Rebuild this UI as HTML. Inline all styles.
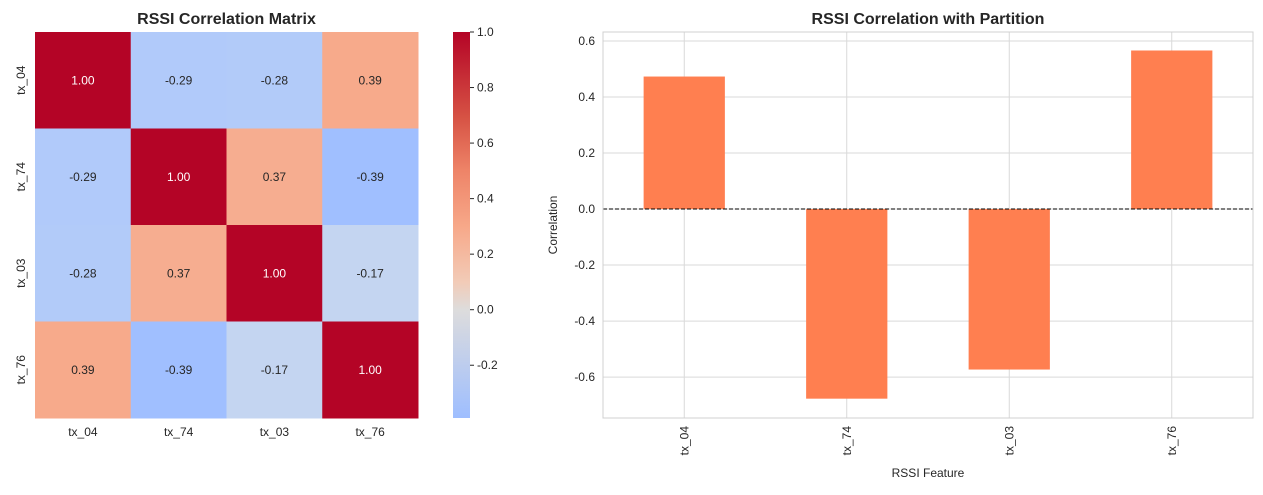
<!DOCTYPE html>
<html><head><meta charset="utf-8"><style>
html,body{margin:0;padding:0;background:#fff;}
svg text{font-family:"Liberation Sans",sans-serif;fill:#262626;}
</style></head><body>
<svg id="fig" width="1263" height="490" xmlns="http://www.w3.org/2000/svg">
<defs>
<linearGradient id="cw" x1="0" y1="1" x2="0" y2="0">
<stop offset="0" stop-color="#9ebeff"/>
<stop offset="0.2806" stop-color="#dddcdc"/>
<stop offset="0.352" stop-color="#f2cbb7"/>
<stop offset="0.496" stop-color="#f7a889"/>
<stop offset="0.64" stop-color="#ee8468"/>
<stop offset="0.78" stop-color="#d65244"/>
<stop offset="1" stop-color="#b40426"/>
</linearGradient>
</defs>
<g id="heat"></g>
<g id="cbar"></g>
<g id="bars"></g>
</svg>
<script>
const heatLabels = ["tx_04","tx_74","tx_03","tx_76"];
const heatValues = [
 [1.00,-0.29,-0.28,0.39],
 [-0.29,1.00,0.37,-0.39],
 [-0.28,0.37,1.00,-0.17],
 [0.39,-0.39,-0.17,1.00]];
const cbarTicks = [1.0,0.8,0.6,0.4,0.2,0.0,-0.2];
const barCategories = ["tx_04","tx_74","tx_03","tx_76"];
const barValues = [0.473,-0.677,-0.573,0.566];
const barTicks = [0.6,0.4,0.2,0.0,-0.2,-0.4,-0.6];

const NS="http://www.w3.org/2000/svg";
function mk(tag,attrs,parent,text){const e=document.createElementNS(NS,tag);for(const k in attrs)e.setAttribute(k,attrs[k]);if(text!==undefined)e.textContent=text;parent.appendChild(e);return e;}
function hex(h){return [1,3,5].map(i=>parseInt(h.substr(i,2),16));}
const cstops=[[0,"#3b4cc0"],[0.1,"#5977e3"],[0.2,"#7b9ff9"],[0.3,"#9ebeff"],[0.4,"#c0d4f5"],[0.5,"#dddcdc"],[0.6,"#f2cbb7"],[0.7,"#f7a889"],[0.8,"#ee8468"],[0.9,"#d65244"],[1,"#b40426"]];
function cmap(v){let p=Math.max(0,Math.min(1,0.5+v/2));for(let i=0;i<cstops.length-1;i++){if(p<=cstops[i+1][0]){const t=(p-cstops[i][0])/0.1;const a=hex(cstops[i][1]),b=hex(cstops[i+1][1]);return "rgb("+a.map((x,j)=>Math.round(x+(b[j]-x)*t)).join(",")+")";}}return cstops[10][1];}

// heatmap
const H=document.getElementById('heat');
const hx0=35,hy0=32,hw=383,hh=386,n=heatLabels.length,cw=hw/n,ch=hh/n;
mk('text',{x:hx0+hw/2,y:24,'text-anchor':'middle','font-size':16,'font-weight':'bold'},H,"RSSI Correlation Matrix");
heatValues.forEach((row,i)=>row.forEach((v,j)=>{
 const r=mk('rect',{x:hx0+j*cw,y:hy0+i*ch,width:cw+0.5,height:ch+0.5,fill:cmap(v)},H);
 
 
 const t=mk('text',{x:hx0+j*cw+cw/2,y:hy0+i*ch+ch/2+4,'text-anchor':'middle','font-size':12,style:'fill:'+(v>0.6?'#fff':'#262626')},H,v.toFixed(2));
 
 
}));
heatLabels.forEach((l,i)=>{
 const t=mk('text',{x:hx0+i*cw+cw/2,y:hy0+hh+18,'text-anchor':'middle','font-size':12},H,l);
 
 
 const cy=hy0+i*ch+ch/2;
 const t2=mk('text',{x:0,y:0,'text-anchor':'middle','font-size':12,transform:`translate(${hx0-10},${cy}) rotate(-90)`},H,l);
 
 
});
// colorbar
const C=document.getElementById('cbar');
const cx0=453,cwid=17,cy0=32,cy1=418,vmin=-0.39,vmax=1.0;
const cy=v=>cy1-(v-vmin)/(vmax-vmin)*(cy1-cy0);
mk('rect',{x:cx0,y:cy0,width:cwid,height:cy1-cy0,fill:'url(#cw)'},C);
cbarTicks.forEach(v=>{
 mk('line',{x1:cx0+cwid,x2:cx0+cwid+4,y1:cy(v),y2:cy(v),stroke:'#262626','stroke-width':1},C);
 const t=mk('text',{x:cx0+cwid+7,y:cy(v)+4,'font-size':12},C,v.toFixed(1));
 
 
});
// bar chart
const B=document.getElementById('bars');
const bx0=603,bx1=1253,by0=32,by1=418,ymin=-0.746,ymax=0.632;
const ys=v=>by1-(v-ymin)/(ymax-ymin)*(by1-by0);
const band=(bx1-bx0)/barCategories.length;
const xs=i=>bx0+band*(i+0.5);
mk('text',{x:(bx0+bx1)/2,y:24,'text-anchor':'middle','font-size':16,'font-weight':'bold'},B,"RSSI Correlation with Partition");
barTicks.forEach(v=>{
 mk('line',{x1:bx0,x2:bx1,y1:ys(v),y2:ys(v),stroke:'#d9d9d9','stroke-width':1},B);
 const t=mk('text',{x:bx0-8,y:ys(v)+4,'text-anchor':'end','font-size':12},B,v.toFixed(1));
 
 
});
barCategories.forEach((c,i)=>{
 mk('line',{x1:xs(i),x2:xs(i),y1:by0,y2:by1,stroke:'#d9d9d9','stroke-width':1},B);
});
barValues.forEach((v,i)=>{
 const w=band*0.5,y=Math.min(ys(v),ys(0)),h=Math.abs(ys(v)-ys(0));
 const r=mk('rect',{x:xs(i)-w/2,y:y,width:w,height:h,fill:'#ff7f50'},B);
 
 
 const t=mk('text',{x:0,y:0,'text-anchor':'end','font-size':12,transform:`translate(${xs(i)+4},${by1+8}) rotate(-90)`},B,barCategories[i]);
 
 
});
mk('line',{x1:bx0,x2:bx1,y1:ys(0),y2:ys(0),stroke:'#000','stroke-width':1,'stroke-dasharray':'4,2'},B);
mk('rect',{x:bx0,y:by0,width:bx1-bx0,height:by1-by0,fill:'none',stroke:'#d0d0d0','stroke-width':1},B);
mk('text',{x:(bx0+bx1)/2,y:477,'text-anchor':'middle','font-size':12},B,"RSSI Feature");
mk('text',{x:0,y:0,'text-anchor':'middle','font-size':12,transform:`translate(557,${(by0+by1)/2}) rotate(-90)`},B,"Correlation");
</script>
</body></html>
